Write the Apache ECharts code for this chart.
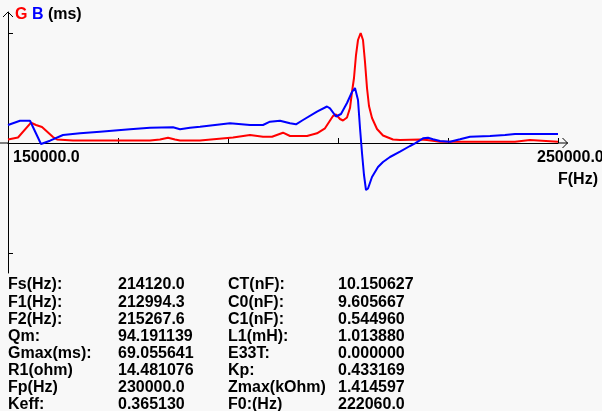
<!DOCTYPE html>
<html>
<head>
<meta charset="utf-8">
<script src="https://cdn.jsdelivr.net/npm/echarts@6/dist/echarts.min.js"></script>
<style>
html,body{margin:0;padding:0;background:#f8f8f8;}
#chart{width:602px;height:411px;}
</style>
</head>
<body>
<div id="chart"></div>
<script>
// ---- data ----
const gFreq = [150000,151818,154182,155091,156182,158182,158909,161818,175818,177636,179091,180364,181273,184909,190909,194000,196364,198000,200000,201273,204364,206182,207636,209091,209636,210364,210909,211636,212182,212545,212909,213273,213636,214120,214545,214909,215273,215636,216182,217091,218182,220000,221273,224909,226182,228545,242182,242364,244909,245091,250000];
const gMs   = [2.20,3.45,12.74,11.30,10.04,3.77,2.20,1.57,1.57,2.20,3.33,2.20,1.57,1.57,3.45,5.02,3.95,3.95,6.47,4.39,4.39,6.09,9.23,16.95,17.89,15.07,14.12,16.01,21.97,32.02,40.81,55.24,64.66,69.06,64.66,50.85,34.53,23.23,15.69,8.79,4.71,2.20,1.88,2.20,1.88,0.82,0.82,1.88,1.88,0.82,0.82];
const bFreq = [150000,152182,154000,156000,157636,160000,163091,166727,172182,175818,180000,181273,183091,184909,190364,194000,196364,197636,199455,201273,202364,203636,206182,208000,208545,209636,210545,211636,212545,213091,213636,214000,214364,214727,215091,215455,216182,217273,218182,219455,221273,223091,224000,225455,226364,227273,228545,230364,232182,234000,237636,240364,242182,250000];
const bMs   = [11.30,14.00,14.00,-0.63,1.44,5.02,6.09,7.09,8.60,9.61,9.86,8.60,9.61,10.23,12.37,11.30,11.30,13.37,14.00,12.37,11.74,14.44,19.65,22.91,21.78,16.64,18.21,25.11,32.02,34.53,26.99,9.42,-6.28,-20.09,-29.51,-28.56,-21.34,-15.07,-11.93,-8.79,-5.46,-1.88,-0.19,2.95,3.33,2.32,1.26,0.82,2.32,3.95,4.39,5.02,5.65,5.65];

const xTickValues  = [150000,170000,190000,210000,230000,250000];
const xLabelValues = [150000,250000];
const xLabelTexts  = ['150000.0','250000.0'];
const yTickValues  = [-69.055641,0,69.055641];

const paramNames1  = ['Fs(Hz):','F1(Hz):','F2(Hz):','Qm:','Gmax(ms):','R1(ohm)','Fp(Hz)','Keff:'];
const paramValues1 = ['214120.0','212994.3','215267.6','94.191139','69.055641','14.481076','230000.0','0.365130'];
const paramNames2  = ['CT(nF):','C0(nF):','C1(nF):','L1(mH):','E33T:','Kp:','Zmax(kOhm)','F0:(Hz)'];
const paramValues2 = ['10.150627','9.605667','0.544960','1.013880','0.000000','0.433169','1.414597','222060.0'];

// ---- chart ----
const FONT = '"Liberation Sans", Arial, sans-serif';
const chart = echarts.init(document.getElementById('chart'), null, {renderer:'canvas'});

const gData = gFreq.map((f,i)=>[f,gMs[i]]);
const bData = bFreq.map((f,i)=>[f,bMs[i]]);

chart.setOption({
  animation:false,
  backgroundColor:'#f8f8f8',
  grid:{left:8, right:44, top:12, bottom:138, containLabel:false, outerBoundsMode:'none'},
  xAxis:{
    type:'value', min:150000, max:250000,
    axisLine:{show:true, onZero:true, lineStyle:{color:'#000',width:1}},
    axisTick:{show:true, inside:true, length:5, customValues:xTickValues, lineStyle:{color:'#000'}},
    axisLabel:{show:false},
    splitLine:{show:false}
  },
  yAxis:{
    type:'value', min:-81.61, max:82.24,
    axisLine:{show:true, onZero:false, lineStyle:{color:'#000',width:1}},
    axisTick:{show:true, inside:true, length:5, customValues:yTickValues, lineStyle:{color:'#000'}},
    axisLabel:{show:false},
    splitLine:{show:false}
  },
  series:[
    {type:'line', name:'G', data:gData, showSymbol:false, symbol:'none', lineStyle:{color:'#ff0000', width:2}, z:3},
    {type:'line', name:'B', data:bData, showSymbol:false, symbol:'none', lineStyle:{color:'#0000ff', width:2}, z:4}
  ]
});

// pixel positions from the chart's own scales
const x0 = chart.convertToPixel({xAxisIndex:0}, 150000);
const x1 = chart.convertToPixel({xAxisIndex:0}, 250000);
const y0 = chart.convertToPixel({yAxisIndex:0}, 0);
const yTop = 12;

const graphics = [];
// axis extensions and arrow heads
graphics.push({type:'line', shape:{x1:0,y1:y0,x2:x0,y2:y0}, style:{stroke:'#000',lineWidth:1}});
graphics.push({type:'line', shape:{x1:x1,y1:y0,x2:x1+10,y2:y0}, style:{stroke:'#000',lineWidth:1}});
graphics.push({type:'polyline', shape:{points:[[x1+4.5,y0-5],[x1+9.5,y0],[x1+4.5,y0+5]]}, style:{stroke:'#000',lineWidth:1,fill:null}});
graphics.push({type:'polyline', shape:{points:[[x0-5,yTop+5],[x0,yTop],[x0+5,yTop+5]]}, style:{stroke:'#000',lineWidth:1,fill:null}});
// x tick labels
const labelOffsets = [5,-21];
xLabelValues.forEach((v,i)=>{
  const px = chart.convertToPixel({xAxisIndex:0}, v);
  graphics.push({type:'text', x:px+labelOffsets[i], y:y0+15, style:{text:xLabelTexts[i], font:'bold 16px '+FONT, fill:'#000', textVerticalAlign:'middle', textAlign:'left'}});
});
// title
graphics.push({type:'text', left:15, top:7, style:{
  text:'{g|G} {b|B} {k|(ms)}',
  font:'bold 16px '+FONT,
  rich:{g:{fill:'#ff0000',font:'bold 16px '+FONT}, b:{fill:'#0000ff',font:'bold 16px '+FONT}, k:{fill:'#000',font:'bold 16px '+FONT}}
}});
// x axis name
graphics.push({type:'text', x:x1, y:y0+37, style:{text:'F(Hz)', font:'bold 16px '+FONT, fill:'#000', textVerticalAlign:'middle', textAlign:'left'}});
// parameter table
const colX = [8,118,228,338];
for (let i=0;i<paramNames1.length;i++){
  const y = 285 + i*17.14;
  const cols = [paramNames1[i],paramValues1[i],paramNames2[i],paramValues2[i]];
  cols.forEach((t,c)=>{
    graphics.push({type:'text', x:colX[c], y:y, style:{text:t, font:'bold 16px '+FONT, fill:'#000', textVerticalAlign:'middle', textAlign:'left'}});
  });
}
chart.setOption({graphic:graphics});
</script>
</body>
</html>
